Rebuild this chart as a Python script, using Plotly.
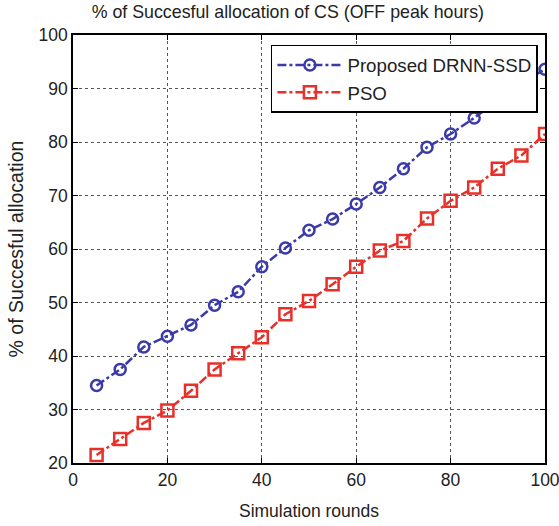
import plotly.graph_objects as go

rounds = [5, 10, 15, 20, 25, 30, 35, 40, 45, 50, 55, 60, 65, 70, 75, 80, 85, 90, 95, 100]
drnn_ssd = [34.5, 37.5, 41.7, 43.7, 45.8, 49.5, 52.0, 56.7, 60.2, 63.5, 65.6, 68.4, 71.5, 75.0, 79.0, 81.5, 84.5, 87.8, 91.0, 93.6]
pso = [21.5, 24.5, 27.5, 29.8, 33.5, 37.5, 40.5, 43.5, 47.8, 50.3, 53.4, 56.7, 59.7, 61.5, 65.7, 69.0, 71.5, 75.0, 77.5, 81.5]
x_ticks = [0, 20, 40, 60, 80, 100]
y_ticks = [20, 30, 40, 50, 60, 70, 80, 90, 100]

blue = "#3a3aa8"
red = "#e8302a"
FONT = "Arial, Liberation Sans"
TXT = "#222222"

fig = go.Figure()
fig.add_trace(go.Scatter(x=rounds, y=drnn_ssd, name="Proposed DRNN-SSD", mode="lines+markers",
                         line=dict(color=blue, width=2.5, dash="dashdot"),
                         marker=dict(symbol="circle-open", size=11, color=blue, line=dict(width=2.5))))
fig.add_trace(go.Scatter(x=rounds, y=pso, name="PSO", mode="lines+markers",
                         line=dict(color=red, width=2.5, dash="dashdot"),
                         marker=dict(symbol="square-open", size=12, color=red, line=dict(width=2.5))))

axis_common = dict(showline=True, linecolor="black", linewidth=1.5, mirror="ticks",
                   ticks="inside", ticklen=5, tickcolor="black",
                   showgrid=True, gridcolor="#555555", griddash="dot", gridwidth=1,
                   zeroline=False, automargin=False, ticklabeloverflow="allow",
                   tickfont=dict(family=FONT, size=17.5, color=TXT))

fig.update_layout(
    width=559, height=526,
    margin=dict(l=73, r=14, t=35, b=63),
    paper_bgcolor="white", plot_bgcolor="white",
    title=dict(text="% of Succesful allocation of CS (OFF peak hours)", x=0.515, xanchor="center",
               y=0.99, yanchor="top", font=dict(family=FONT, size=17.8, color=TXT)),
    xaxis=dict(range=[0, 100], tickvals=x_ticks,
               title=dict(text="Simulation rounds", font=dict(family=FONT, size=17.5, color=TXT), standoff=16),
               **axis_common),
    yaxis=dict(range=[20, 100], tickvals=y_ticks,
               title=dict(text="% of Succesful allocation", font=dict(family=FONT, size=19.5, color=TXT), standoff=10),
               **axis_common),
    legend=dict(x=0.985, y=0.977, xanchor="right", yanchor="top", bgcolor="white",
                bordercolor="black", borderwidth=1.5,
                font=dict(family=FONT, size=18.7, color=TXT),
                itemwidth=65, tracegroupgap=0),
    showlegend=True,
)

fig.write_html("out.html")
